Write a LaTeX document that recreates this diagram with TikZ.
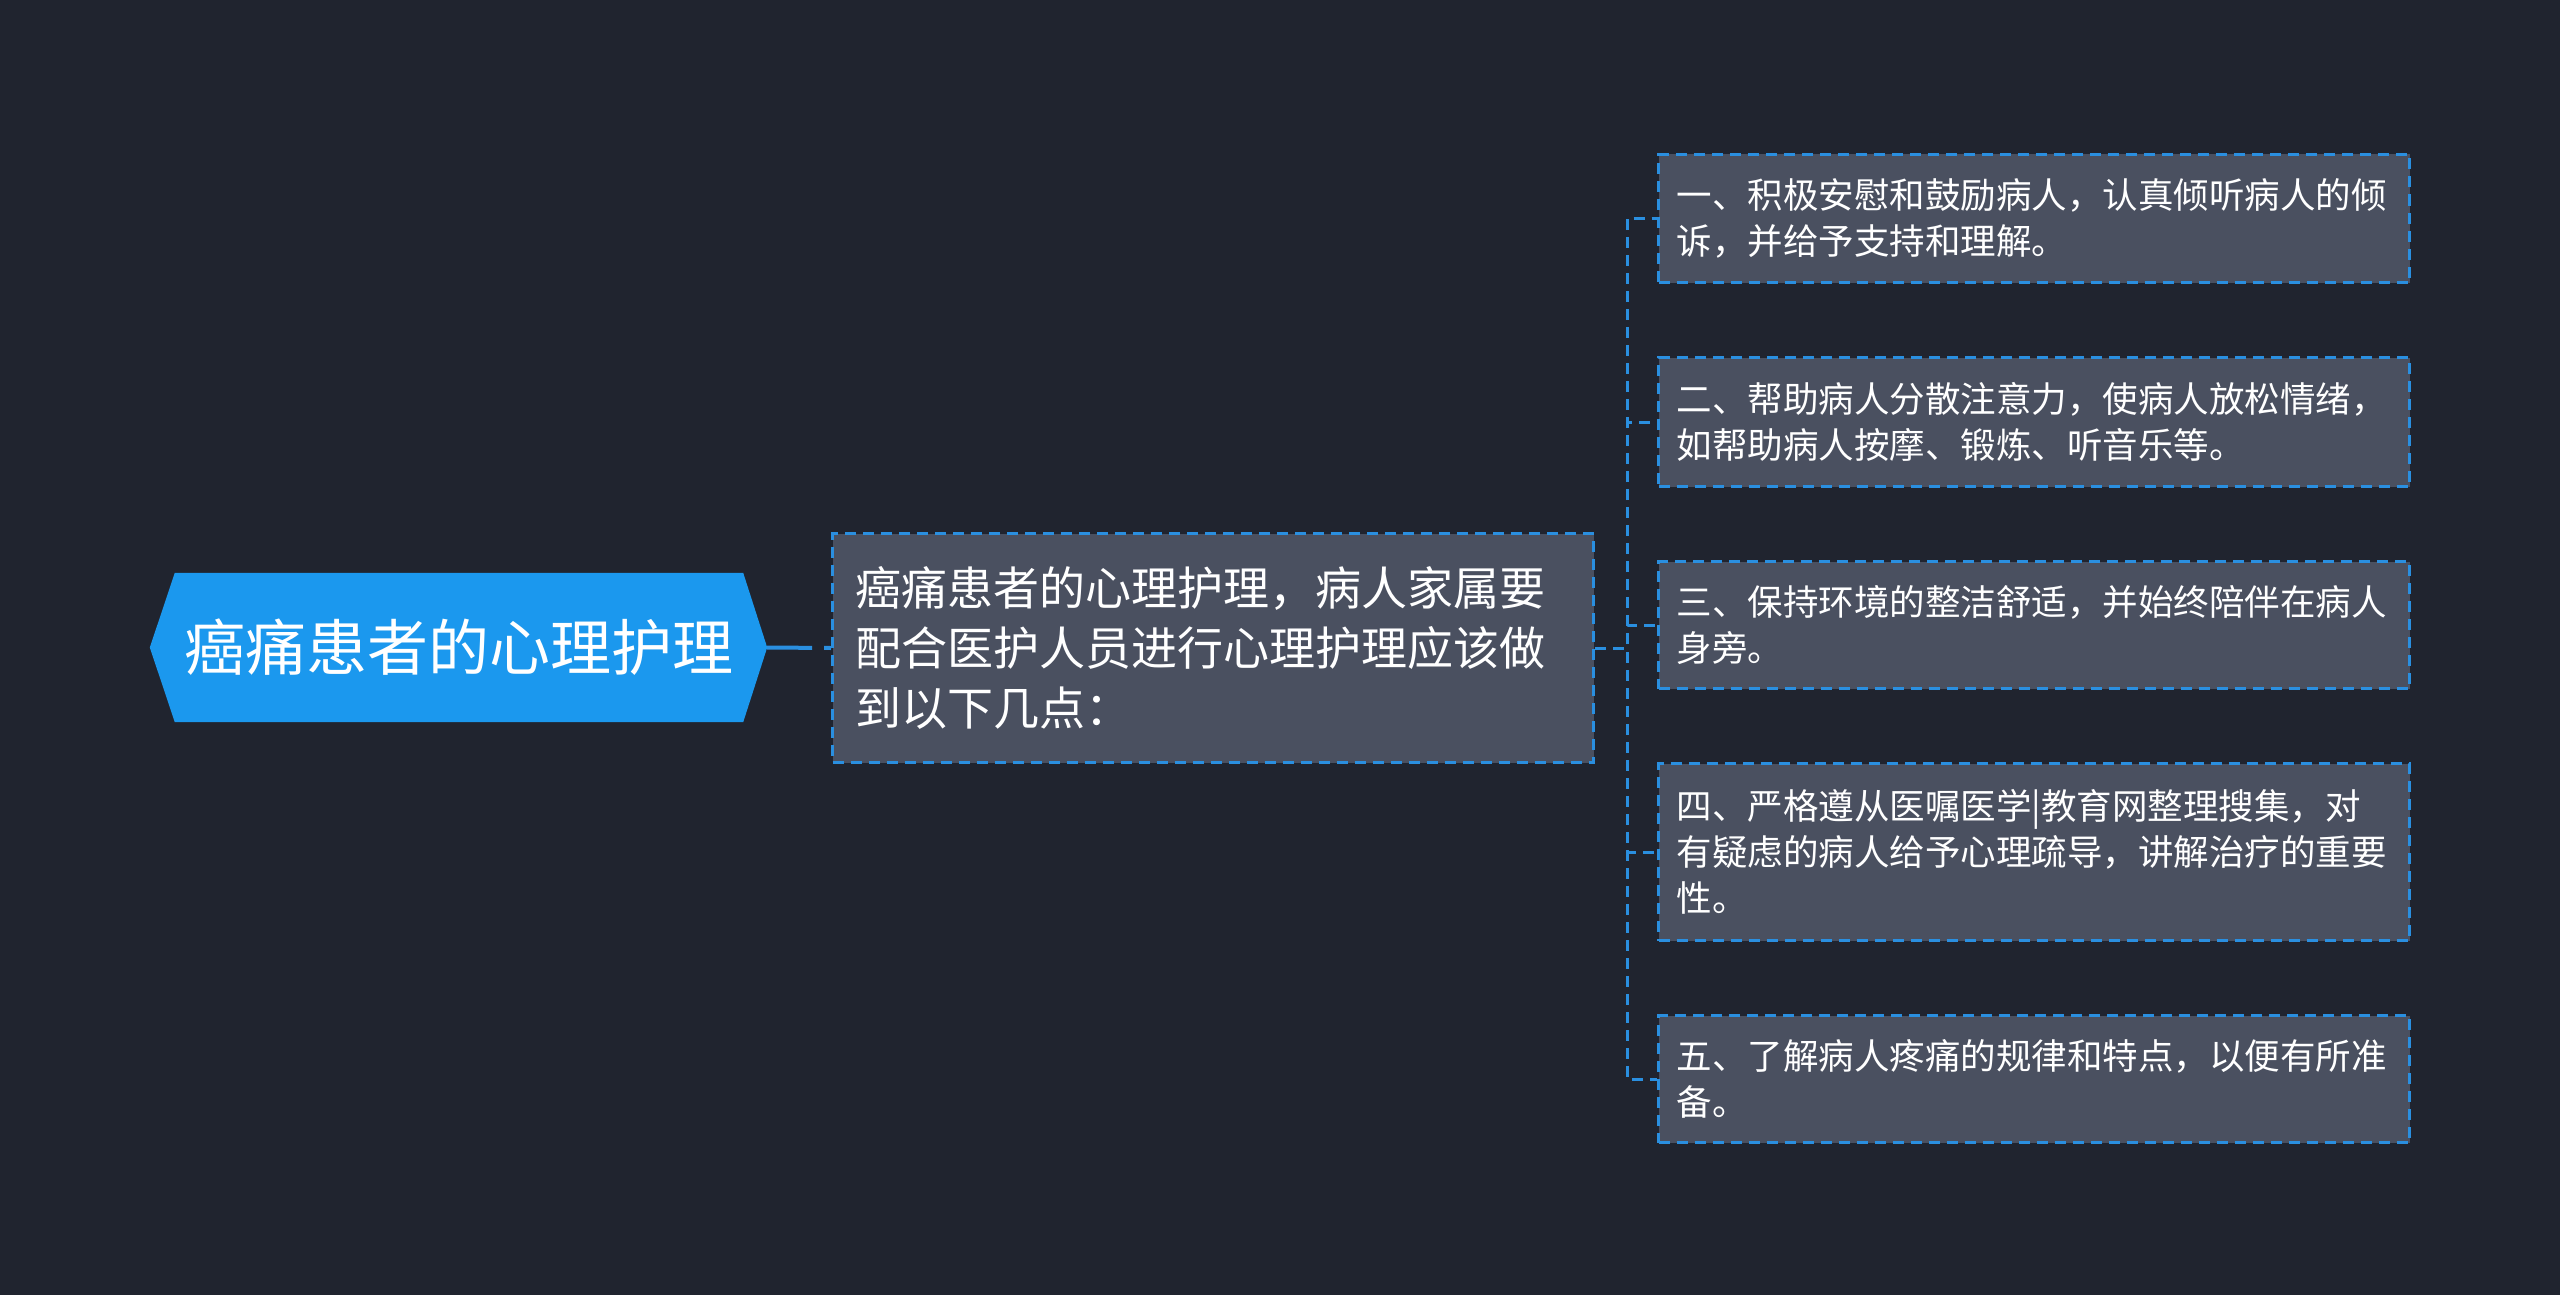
\documentclass[tikz,border=0pt]{standalone}
\usepackage{fontspec}
\setmainfont{Noto Sans CJK SC}
\usetikzlibrary{backgrounds}
\definecolor{bgc}{HTML}{20242F}
\definecolor{rootc}{HTML}{1B98EE}
\definecolor{boxc}{HTML}{4A5060}
\definecolor{linec}{HTML}{2A8FE0}
\begin{document}
\begin{tikzpicture}[x=1pt,y=-1pt,
  box/.style={draw=linec, fill=boxc, line width=3pt, dash pattern=on 11pt off 7pt,
    text=white, align=left, anchor=north west, inner ysep=0pt},
  leafbox/.style={box, inner xsep=18pt, text width=715pt,
    font=\fontsize{35.5}{46}\selectfont},
  conn/.style={draw=linec, line width=3pt, dash pattern=on 11pt off 7pt},
  rootconn/.style={draw=linec, line width=4pt, dash pattern=on 45pt off 12pt}]
\begin{pgfonlayer}{background}
\fill[bgc] (0,0) rectangle (2560,1295);
\end{pgfonlayer}
\useasboundingbox (0,0) rectangle (2560,1295);

\node (root) at (458.5,647.5) [minimum width=617pt, minimum height=149pt, inner sep=0pt,
  text=white, font=\fontsize{61}{70}\selectfont] {癌痛患者的心理护理};
\begin{pgfonlayer}{background}
\fill[rootc] (root.west) -- ([xshift=25pt]root.north west) -- ([xshift=-24pt]root.north east)
  -- (root.east) -- ([xshift=-24pt]root.south east) -- ([xshift=25pt]root.south west) -- cycle;
\end{pgfonlayer}

\node (mid) at (831,532) [box, inner xsep=23pt, text width=715pt, minimum height=229pt,
  font=\fontsize{46}{60}\selectfont]
  {癌痛患者的心理护理，病人家属要\\配合医护人员进行心理护理应该做\\到以下几点：};

\node (c1) at (1657,153) [leafbox, minimum height=128pt]
  {一、积极安慰和鼓励病人，认真倾听病人的倾\\诉，并给予支持和理解。};
\node (c2) at (1657,356) [leafbox, minimum height=129pt]
  {二、帮助病人分散注意力，使病人放松情绪，\\如帮助病人按摩、锻炼、听音乐等。};
\node (c3) at (1657,560) [leafbox, minimum height=127pt]
  {三、保持环境的整洁舒适，并始终陪伴在病人\\身旁。};
\node (c4) at (1657,762) [leafbox, minimum height=177pt]
  {四、严格遵从医嘱医学|教育网整理搜集，对\\有疑虑的病人给予心理疏导，讲解治疗的重要\\性。};
\node (c5) at (1657,1014) [leafbox, minimum height=127pt]
  {五、了解病人疼痛的规律和特点，以便有所准\\备。};

\draw[rootconn] (root.east) -- (mid.west);
\coordinate (hub) at ([xshift=32pt]mid.east);
\foreach \c in {c1,c2,c3,c4,c5}{
  \draw[conn] (mid.east) -- (hub) |- (\c.west);
}
\end{tikzpicture}
\end{document}
